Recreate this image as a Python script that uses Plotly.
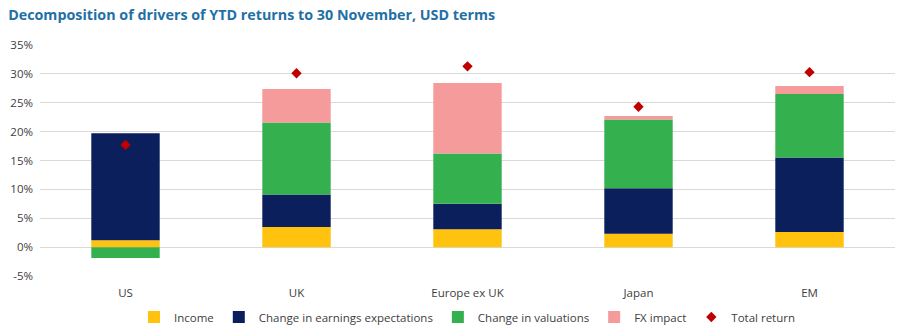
import plotly.graph_objects as go

regions = ["US", "UK", "Europe ex UK", "Japan", "EM"]
income = [1.2, 3.5, 3.1, 2.3, 2.6]
earnings = [18.5, 5.6, 4.4, 7.9, 12.9]
valuations = [-1.9, 12.5, 8.7, 11.9, 11.0]
fx_impact = [0.0, 5.8, 12.2, 0.6, 1.4]
total_return = [17.7, 30.1, 31.3, 24.3, 30.3]

y_tick_vals = [-5, 0, 5, 10, 15, 20, 25, 30, 35]
y_tick_text = ["-5%", "0%", "5%", "10%", "15%", "20%", "25%", "30%", "35%"]

font_family = "Open Sans"
text_color = "#404040"

fig = go.Figure()
fig.add_trace(go.Bar(name="Income", x=regions, y=income, marker_color="#FFC20E", marker_line_width=0))
fig.add_trace(go.Bar(name="Change in earnings expectations", x=regions, y=earnings, marker_color="#0A1F5C", marker_line_width=0))
fig.add_trace(go.Bar(name="Change in valuations", x=regions, y=valuations, marker_color="#34B04F", marker_line_width=0))
fig.add_trace(go.Bar(name="FX impact", x=regions, y=fx_impact, marker_color="#F59B9B", marker_line_width=0))
fig.add_trace(go.Scatter(name="Total return", x=regions, y=total_return, mode="markers",
                         marker=dict(symbol="diamond", size=8, color="#C00000")))

fig.update_layout(
    width=906, height=334,
    barmode="relative", bargap=0.6,
    paper_bgcolor="white", plot_bgcolor="white",
    margin=dict(l=40, r=11, t=45, b=58, autoexpand=False),
    font=dict(family=font_family, size=11.5, color=text_color),
    title=dict(text="<b>Decomposition of drivers of YTD returns to 30 November, USD terms</b>",
               x=0.009, xanchor="left", y=0.955, yanchor="middle",
               font=dict(family=font_family, size=14.3, color="#1F70A6")),
    legend=dict(orientation="h", x=0.5, xanchor="center", y=-0.115, yanchor="top",
                traceorder="normal", font=dict(size=11.5, color=text_color),
                itemwidth=30, tracegroupgap=0),
    showlegend=True,
)
fig.update_yaxes(range=[-5, 35], tickvals=y_tick_vals, ticktext=y_tick_text,
                 showgrid=True, gridcolor="#D9D9D9", gridwidth=1,
                 zeroline=True, zerolinecolor="#D9D9D9", zerolinewidth=1,
                 showline=False, ticks="", ticklabelstandoff=6, automargin=False)
fig.update_xaxes(showgrid=False, showline=False, ticks="", ticklabelstandoff=8,
                 automargin=False, tickfont=dict(size=11.5, color=text_color))

fig.write_html("out.html")
